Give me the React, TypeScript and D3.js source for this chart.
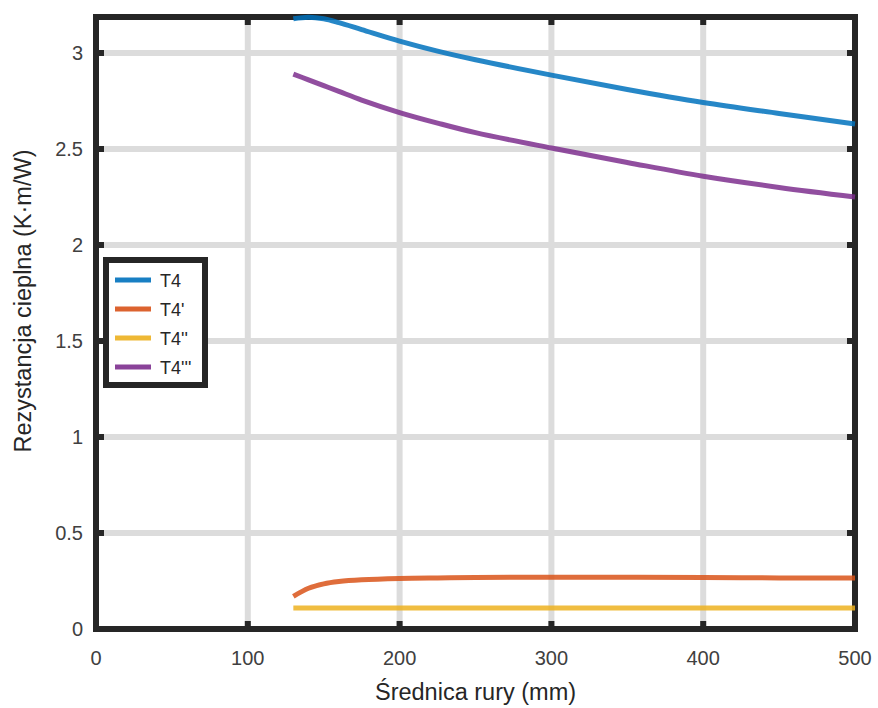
import React from "react";
import * as d3 from "d3";

const xValues = [130, 140, 150, 160, 175, 200, 225, 250, 300, 350, 400, 450, 500];
const t4 = [3.178, 3.186, 3.178, 3.158, 3.122, 3.062, 3.01, 2.965, 2.885, 2.81, 2.742, 2.685, 2.63];
const t4p = [0.17, 0.212, 0.235, 0.247, 0.256, 0.263, 0.266, 0.268, 0.27, 0.269, 0.268, 0.266, 0.265];
const t4pp = [0.11, 0.11, 0.11, 0.11, 0.11, 0.11, 0.11, 0.11, 0.11, 0.11, 0.11, 0.11, 0.11];
const t4ppp = [2.89, 2.86, 2.83, 2.80, 2.755, 2.69, 2.635, 2.585, 2.505, 2.43, 2.358, 2.3, 2.25];
const seriesNames = ["T4", "T4'", "T4''", "T4'''"];
const seriesColors = ["#0072BD", "#D95319", "#EDB120", "#7E2F8E"];
const xTicks = [0, 100, 200, 300, 400, 500];
const yTicks = [0, 0.5, 1, 1.5, 2, 2.5, 3];

export default function App() {
  const W = 878, H = 708;
  const left = 96, right = 855, top = 17, bottom = 629;
  const x = d3.scaleLinear().domain([0, 500]).range([left, right]);
  const y = d3.scaleLinear().domain([0, 3.1875]).range([bottom, top]);
  const line = d3.line<[number, number]>().x(d => x(d[0])).y(d => y(d[1])).curve(d3.curveCatmullRom.alpha(0.5));
  const all = [t4, t4p, t4pp, t4ppp];
  const font = "'Liberation Sans', Arial, sans-serif";
  const txt = "#262626";
  return (
    <svg width={W} height={H} style={{ position: "absolute", left: 0, top: 0 }} fontFamily={font}>
      <rect x={0} y={0} width={W} height={H} fill="#fff" />
      {xTicks.slice(1, -1).map(t => (
        <line key={"gx" + t} x1={x(t)} x2={x(t)} y1={top} y2={bottom} stroke="#dcdcdc" strokeWidth={6} />
      ))}
      {yTicks.slice(1).map(t => (
        <line key={"gy" + t} x1={left} x2={right} y1={y(t)} y2={y(t)} stroke="#dcdcdc" strokeWidth={6} />
      ))}
      <rect x={left} y={top} width={right - left} height={bottom - top} fill="none" stroke="#262626" strokeWidth={6} />
      {xTicks.map(t => (
        <g key={"tx" + t}>
          <line x1={x(t)} x2={x(t)} y1={bottom} y2={bottom - 8} stroke="#262626" strokeWidth={6} />
          <line x1={x(t)} x2={x(t)} y1={top} y2={top + 8} stroke="#262626" strokeWidth={6} />
          <text x={x(t)} y={665} textAnchor="middle" fontSize={20} fill="#404040">{t}</text>
        </g>
      ))}
      {yTicks.map(t => (
        <g key={"ty" + t}>
          <line x1={left} x2={left + 8} y1={y(t)} y2={y(t)} stroke="#262626" strokeWidth={6} />
          <line x1={right} x2={right - 8} y1={y(t)} y2={y(t)} stroke="#262626" strokeWidth={6} />
          <text x={83} y={y(t) + 7} textAnchor="end" fontSize={20} fill="#404040">{t}</text>
        </g>
      ))}
      {all.map((s, i) => (
        <path key={i} d={line(xValues.map((v, j) => [v, s[j]] as [number, number])) || ""}
          fill="none" stroke={seriesColors[i]} strokeWidth={5} opacity={0.85} />
      ))}
      <text x={(left + right) / 2} y={700} textAnchor="middle" fontSize={23.5} fill={txt}>Średnica rury (mm)</text>
      <text transform={`translate(31, 301) rotate(-90)`} textAnchor="middle" fontSize={23.5} fill={txt}>Rezystancja cieplna (K·m/W)</text>
      <rect x={106} y={260} width={99} height={125} fill="#fff" stroke="#262626" strokeWidth={6} />
      {seriesNames.map((n, i) => (
        <g key={n}>
          <line x1={115} x2={151} y1={280 + i * 29} y2={280 + i * 29} stroke={seriesColors[i]} strokeWidth={5} opacity={0.9} />
          <text x={160} y={280 + i * 29 + 6.5} fontSize={18} fill={txt}>{n}</text>
        </g>
      ))}
    </svg>
  );
}
